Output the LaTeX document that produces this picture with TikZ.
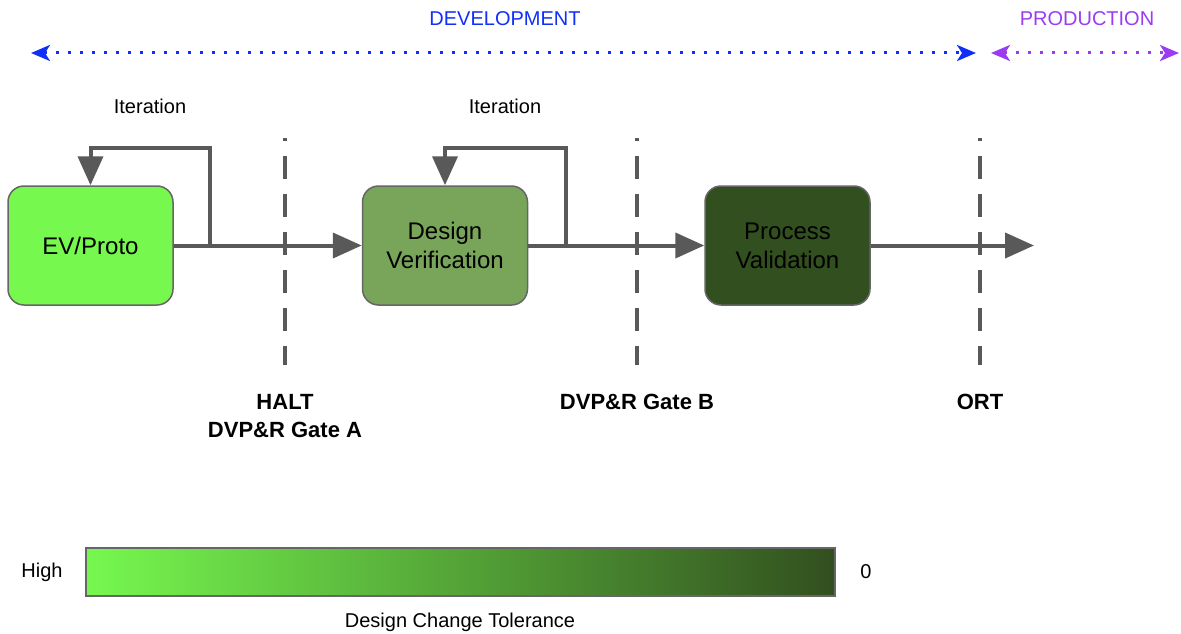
\documentclass[tikz,border=0pt]{standalone}
\usepackage{fontspec}
\setmainfont{Liberation Sans}
\usetikzlibrary{arrows.meta,calc}
\definecolor{lineg}{HTML}{595959}
\definecolor{edgeg}{HTML}{666666}
\definecolor{evfill}{HTML}{76F84F}
\definecolor{dvfill}{HTML}{78A55A}
\definecolor{pvfill}{HTML}{324F1F}
\definecolor{devblue}{HTML}{1030F8}
\definecolor{prodpurple}{HTML}{9B3CF2}
\tikzset{
  stage/.style={draw=edgeg, line width=1.5pt, rounded corners=16pt,
    minimum width=165pt, minimum height=119pt, inner sep=0pt,
    align=center, font=\fontsize{24}{29}\selectfont},
  flow/.style={draw=lineg, line width=4pt,
    -{Triangle[length=29pt,width=25pt]}},
  plain/.style={draw=lineg, line width=4pt},
  gate/.style={draw=lineg, line width=4pt, dash pattern=on 23pt off 15pt, dash phase=20pt},
  label/.style={font=\fontsize{20}{28}\selectfont, align=center, inner sep=0pt},
  gatelabel/.style={label, font=\bfseries\fontsize{22}{28}\selectfont},
  span/.style={line width=3pt, dash pattern=on 3pt off 9pt,
    {Stealth[length=19pt,width=16pt,inset=5pt]}-{Stealth[length=19pt,width=16pt,inset=5pt]}},
}
\begin{document}
\begin{tikzpicture}[x=1pt,y=-1pt]
\useasboundingbox (0,0) rectangle (1181,634);

% phase spans
\node[label, text=devblue] (devlab) at (505,19) {DEVELOPMENT};
\node[label, text=prodpurple] (prodlab) at (1087,19) {PRODUCTION};
\coordinate (d1) at (31,53);
\coordinate (d2) at (976,53);
\coordinate (p1) at (991,53);
\coordinate (p2) at (1179,53);
\draw[span, devblue] (d1) -- (d2);
\draw[span, prodpurple] (p1) -- (p2);

% gates
\coordinate (gA) at (285,138);
\coordinate (gB) at (637,138);
\coordinate (gC) at (980,138);
\draw[gate] (gA) -- ++(0,227);
\draw[gate] (gB) -- ++(0,227);
\draw[gate] (gC) -- ++(0,227);

% stages
\node[stage, fill=evfill] (ev) at (90.5,245.5) {EV/Proto};
\node[stage, fill=dvfill] (dv) at (445,245.5) {Design\\Verification};
\node[stage, fill=pvfill] (pv) at (787.5,245.5) {Process\\Validation};
\coordinate (out) at (1034,245.5);

% main flow
\draw[flow] (ev) -- (dv);
\draw[flow] (dv) -- (pv);
\draw[flow] (pv) -- (out);

% iteration loops
\coordinate (l1) at (210,245.5);
\coordinate (l2) at (566,245.5);
\draw[plain, -{Triangle[length=29pt,width=25pt]}, line join=miter]
  (l1) -- (210,148) -| (ev.north);
\draw[plain, -{Triangle[length=29pt,width=25pt]}, line join=miter]
  (l2) -- (566,148) -| (dv.north);
\node[label] (it1) at (150,106) {Iteration};
\node[label] (it2) at (505,106) {Iteration};

% gate labels
\node[gatelabel] (gAlab) at (285,416) {HALT\\DVP\&R Gate A};
\node[gatelabel] (gBlab) at (637,402) {DVP\&R Gate B};
\node[gatelabel] (gClab) at (980,402) {ORT};

% tolerance scale
\node[draw=edgeg, line width=1.5pt, left color=evfill, right color=pvfill,
  minimum width=749pt, minimum height=48pt, inner sep=0pt] (bar) at (460.5,572) {};
\node[label] (hi) at (42,572) {High};
\node[label] (zero) at (866,572) {0};
\node[label] (tol) at (460,622) {Design Change Tolerance};
\end{tikzpicture}
\end{document}
